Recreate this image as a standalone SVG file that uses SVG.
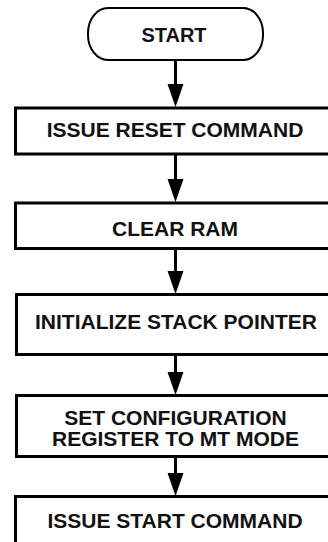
<svg xmlns="http://www.w3.org/2000/svg" width="328" height="542" viewBox="0 0 328 542">
<style>
.box{fill:#fff;stroke:#000;stroke-width:3;stroke-linejoin:miter}
.term{fill:#fff;stroke:#000;stroke-width:2}
.lbl{font-family:"Liberation Sans",Arial,Helvetica,sans-serif;font-weight:bold;font-size:21px;fill:#111;text-anchor:middle}
.conn{stroke:#000;stroke-width:3;fill:none;marker-end:url(#ah)}
</style>
<defs>
<marker id="ah" markerUnits="userSpaceOnUse" markerWidth="24" markerHeight="16" refX="0" refY="8" orient="auto" overflow="visible">
<path d="M0,0 L23,8 L0,16 Z" fill="#000"/>
</marker>
</defs>
<rect width="328" height="542" fill="#fff"/>
<g id="connectors">
<line class="conn" x1="175.5" y1="60" x2="175.5" y2="84"/>
<line class="conn" x1="175.5" y1="155" x2="175.5" y2="179"/>
<line class="conn" x1="175.5" y1="249" x2="175.5" y2="271"/>
<line class="conn" x1="175.5" y1="355" x2="175.5" y2="372"/>
<line class="conn" x1="175.5" y1="457" x2="175.5" y2="473"/>
</g>
<g id="start">
<rect class="term" x="88" y="8" width="175" height="52" rx="20" ry="25"/>
<text class="lbl" x="174" y="42" style="font-size:20px">START</text>
</g>
<g id="issue-reset">
<path class="box" d="M345,108 H15.5 V154 H345"/>
<text class="lbl" x="175" y="137">ISSUE RESET COMMAND</text>
</g>
<g id="clear-ram">
<path class="box" d="M345,203 H15.5 V248.5 H345"/>
<text class="lbl" x="175" y="236">CLEAR RAM</text>
</g>
<g id="init-stack">
<path class="box" d="M345,294.5 H16.5 V354.5 H345"/>
<text class="lbl" x="176" y="329">INITIALIZE STACK POINTER</text>
</g>
<g id="set-config">
<path class="box" d="M345,395.5 H16.5 V456.5 H345"/>
<text class="lbl" x="175.5" y="425">SET CONFIGURATION</text>
<text class="lbl" x="175.5" y="446">REGISTER TO MT MODE</text>
</g>
<g id="issue-start">
<path class="box" d="M345,496.5 H15.5 V560"/>
<text class="lbl" x="175" y="528">ISSUE START COMMAND</text>
</g>
</svg>
